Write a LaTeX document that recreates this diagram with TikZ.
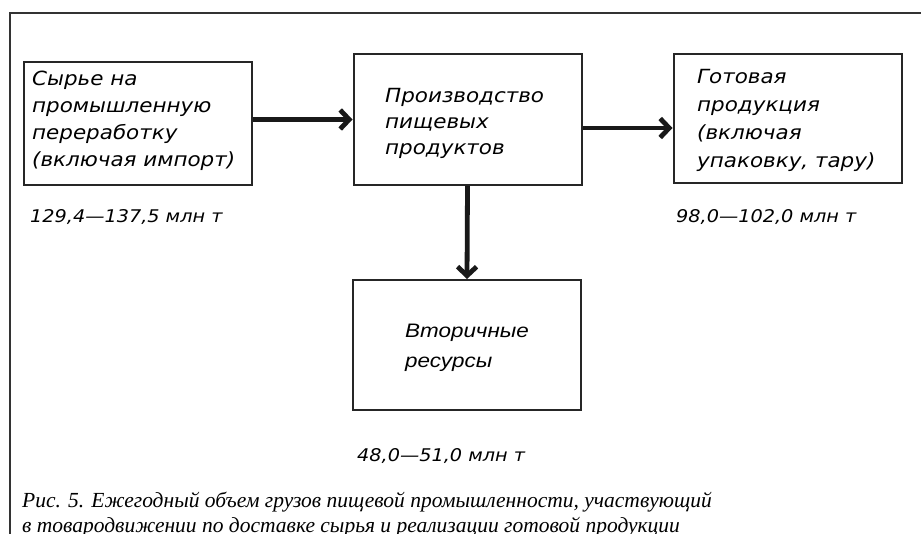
\documentclass[tikz,border=0pt]{standalone}
\usepackage{fontspec}
\setmainfont{Liberation Serif}
\newfontfamily\rndfont{DejaVu Sans}[FakeStretch=1.1]
\newfontfamily\arlfont{Liberation Sans}[FakeStretch=1.15]
\newfontfamily\capfont{Liberation Serif}
\usetikzlibrary{arrows.meta}

\tikzset{
  block/.style={draw=black!85, line width=2pt, minimum width=228pt, inner sep=0pt},
  btext/.style={anchor=base west, align=left, inner sep=0pt, font=\rndfont\itshape\fontsize{19.5}{27}\selectfont},
  qty/.style={anchor=base west, inner sep=0pt, font=\rndfont\itshape\fontsize{17.5}{22}\selectfont},
  flow/.style={line width=4.8pt, black!90, -{Straight Barb[length=9pt,width=19pt]}},
  frame/.style={line width=1.2pt, black!80}
}

\begin{document}
\begin{tikzpicture}[x=1pt,y=-1pt]

\useasboundingbox (0,0) rectangle (921,534);
\clip (0,0) rectangle (921,534);

% outer frame (cut off at right and bottom)
\draw[frame] (10,540) -- (10,13) -- (925,13);

% blocks
\node[block, minimum height=123pt] (syrje) at (137.5,123.5) {};
\node[block, minimum height=131pt] (proizv) at (467.5,119.5) {};
\node[block, minimum height=129pt] (gotov) at (787.5,119) {};
\node[block, minimum height=130pt] (vtor) at (467,345) {};

% block texts (anchored at the baseline of the last line)
\node[btext] (syrjeT) at (32,167) {Сырье на\\промышленную\\переработку\\(включая импорт)};
\node[btext, font=\rndfont\itshape\fontsize{19.5}{26}\selectfont] (proizvT) at (385,155) {Производство\\пищевых\\продуктов};
\node[btext, font=\rndfont\itshape\fontsize{19.5}{28}\selectfont] (gotovT) at (697,168) {Готовая\\продукция\\(включая\\упаковку, тару)};
\node[btext, font=\arlfont\itshape\fontsize{19.5}{30}\selectfont] (vtorT) at (405,368) {Вторичные\\ресурсы};

% quantities
\node[qty] (syrjeQ) at (30,223) {129,4—137,5 млн т};
\node[qty] (gotovQ) at (676,223) {98,0—102,0 млн т};
\node[qty] (vtorQ) at (357,461) {48,0—51,0 млн т};

% arrows
\coordinate (pg) at ([yshift=-8.5pt]proizv.east);
\draw[flow] (syrje.east |- proizv.west) -- (proizv.west);
\draw[flow] (pg) -- (pg -| gotov.west);
\draw[flow] (proizv.south) -- (vtor.north);

% caption
\node[anchor=base west, align=left, inner sep=0pt, font=\capfont\itshape\fontsize{21.5}{25}\selectfont] (cap) at (22,532)
  {Рис. 5. Ежегодный объем грузов пищевой промышленности, участвующий\\в товародвижении по доставке сырья и реализации готовой продукции};

\end{tikzpicture}
\end{document}
